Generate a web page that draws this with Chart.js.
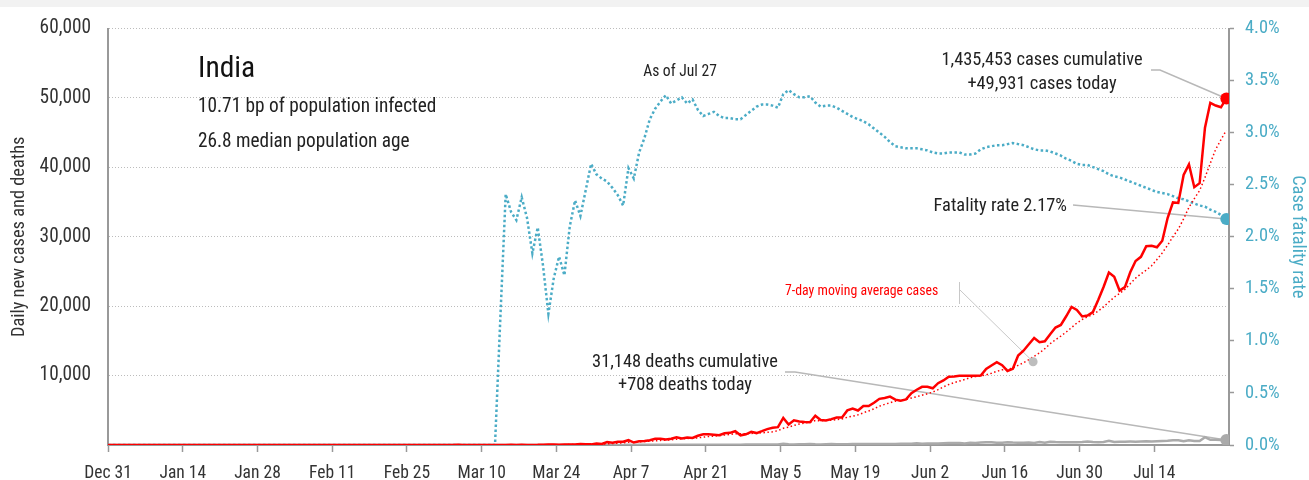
<!DOCTYPE html>
<html>
<head>
<meta charset="utf-8">
<script src="https://cdn.jsdelivr.net/npm/chart.js@4.4.1/dist/chart.umd.min.js"></script>
<style>
  html, body { margin: 0; padding: 0; background: #fff; }
  #wrap { position: relative; width: 1309px; height: 480px; }
  #band { position: absolute; left: 0; top: 0; width: 1309px; height: 7px; background: #f2f2f2; }
  #chart { position: absolute; left: 0; top: 0; }
</style>
</head>
<body>
<div id="wrap"><div id="band"></div><canvas id="chart" width="1309" height="480"></canvas></div>
<script>
// India: daily new cases / deaths (left axis) and case fatality rate (right axis)

// x axis is "days after Dec 31"; ticks every two weeks
const tickDays = [0, 14, 28, 42, 56, 70, 84, 98, 112, 126, 140, 154, 168, 182, 196];
const tickLabels = ['Dec 31', 'Jan 14', 'Jan 28', 'Feb 11', 'Feb 25', 'Mar 10', 'Mar 24', 'Apr 7',
  'Apr 21', 'May 5', 'May 19', 'Jun 2', 'Jun 16', 'Jun 30', 'Jul 14'];
const lastDay = 210;

// series start on Mar 1 (day 61); everything before that is zero
const firstDay = 61;
const quietValue = 0;

const cases = [
  // Mar
  0, 0, 2, 1, 22, 2, 1, 3, 5, 4, 13, 6, 11, 9, 20, 11, 23, 14, 14, 22, 50, 64, 77, 37, 86, 88, 75, 149, 106, 92, 227,
  // Apr
  146, 437, 336, 478, 472, 693, 354, 540, 591, 678, 896, 909, 796, 905, 1118, 941, 1076, 1007, 1334, 1553,
  1540, 1486, 1409, 1684, 1752, 1990, 1396, 1543, 1897, 1718,
  // May
  1993, 2293, 2487, 2573, 3900, 2958, 3561, 3390, 3320, 3277, 4213, 3604, 3525, 3722, 3967, 3970, 4987, 5242, 4970, 5611,
  5609, 6088, 6654, 6767, 6977, 6535, 6387, 6566, 7466, 7964, 8380,
  // Jun
  8392, 8171, 8909, 9304, 9851, 9887, 9971, 9983, 9987, 9985, 9996, 10956, 11458, 11929, 11502, 10667, 10974, 12881, 13586, 14516,
  15413, 14821, 14933, 15968, 16922, 17296, 18552, 19906, 19459, 18522,
  // Jul
  18653, 19148, 20903, 22771, 24850, 24248, 22252, 22752, 24879, 26506, 27114, 28637, 28701, 28498, 29429, 32695, 34956, 34884, 38902, 40425,
  37148, 37724, 45720, 49310, 48916, 48661, 49931
];

const casesAvg7 = [
  0, 0, 0, 0, 4, 4, 4, 4, 5, 5, 7, 5, 6, 7, 10, 11, 13, 13, 15, 16, 22, 28, 38, 40, 50, 61, 68, 82, 88, 90, 118,
  126, 176, 213, 260, 313, 398, 417, 473, 495, 544, 603, 666, 681, 759, 842, 892, 949, 965, 1025, 1133,
  1224, 1277, 1344, 1430, 1537, 1631, 1608, 1609, 1667, 1711,
  1756, 1833, 1904, 2072, 2409, 2560, 2824, 3023, 3170, 3283, 3517, 3475, 3556, 3579, 3661, 3754, 3998, 4145, 4340, 4638,
  4908, 5211, 5594, 5849, 6097, 6320, 6431, 6568, 6765, 6952, 7182,
  7384, 7618, 7978, 8369, 8710, 8985, 9212, 9439, 9699, 9853, 9951, 10109, 10334, 10613, 10830, 10928, 11069, 11481, 11857, 12294,
  12791, 13265, 13875, 14588, 15166, 15696, 16272, 16914, 17577, 18089,
  18473, 18791, 19306, 19909, 20615, 21299, 21832, 22418, 23236, 24037, 24657, 25198, 25834, 26727, 27681, 28797, 30004, 31114, 32581, 34256,
  35491, 36676, 38537, 40588, 42592, 43986, 45344
];

const deaths = [
  0, 0, 0, 0, 0, 0, 0, 0, 0, 0, 0, 0, 1, 1, 0, 0, 1, 0, 0, 1, 0, 3, 1, 2, 1, 3, 4, 2, 6, 5, 3,
  3, 12, 6, 12, 11, 26, 5, 35, 20, 33, 35, 34, 35, 51, 29, 38, 26, 43, 31, 36, 46, 50, 41, 37, 37, 49, 48, 60, 71, 73,
  75, 77, 83, 68, 195, 126, 89, 103, 95, 128, 97, 87, 122, 134, 100, 103, 120, 157, 134, 140,
  132, 148, 137, 147, 154, 146, 170, 194, 175, 265, 193,
  230, 204, 217, 260, 273, 294, 287, 206, 331, 279, 357, 396, 386, 311, 325, 380, 343, 334, 336, 375,
  306, 445, 312, 465, 418, 407, 384, 410, 380, 418,
  507, 434, 379, 442, 613, 425, 467, 482, 487, 475, 519, 551, 500, 553, 582, 606, 687, 671, 543, 681,
  587, 587, 1129, 740, 757, 705, 708
];

// case fatality rate, percent
const fatalityRate = [
  0, 0, 0, 0, 0, 0, 0, 0, 0, 0, 0, 0, 1.22, 2.41, 2.24, 2.16, 2.38, 2.18, 1.84, 2.09, 1.72, 1.26, 1.6, 1.81, 1.63,
  2.1, 2.35, 2.2, 2.45, 2.7, 2.6,
  2.56, 2.53, 2.47, 2.4, 2.3, 2.66, 2.56, 2.81, 2.95, 3.13, 3.23, 3.3, 3.36, 3.28, 3.31, 3.34, 3.28, 3.32, 3.22, 3.16,
  3.18, 3.2, 3.16, 3.14, 3.14, 3.13, 3.13, 3.17, 3.21, 3.25,
  3.27, 3.27, 3.26, 3.24, 3.37, 3.41, 3.37, 3.34, 3.34, 3.35, 3.29, 3.25, 3.26, 3.26, 3.24, 3.21, 3.18, 3.15, 3.13, 3.11,
  3.08, 3.04, 3.0, 2.96, 2.91, 2.87, 2.86, 2.85, 2.85, 2.85, 2.84,
  2.83, 2.81, 2.8, 2.8, 2.81, 2.81, 2.81, 2.79, 2.79, 2.8, 2.84, 2.86, 2.87, 2.88, 2.88, 2.89, 2.9, 2.89, 2.88, 2.86,
  2.84, 2.83, 2.83, 2.82, 2.8, 2.78, 2.75, 2.73, 2.7, 2.69,
  2.69, 2.67, 2.65, 2.63, 2.6, 2.58, 2.57, 2.55, 2.53, 2.51, 2.49, 2.47, 2.45, 2.43, 2.42, 2.41, 2.39, 2.37, 2.36, 2.34,
  2.32, 2.3, 2.29, 2.26, 2.24, 2.21, 2.17
];

// first installed narrow face wins; a probe string changes width only if the face exists
function pickFont(list) {
  const c = document.createElement('canvas').getContext('2d');
  const probe = 'abcdefghijklmnopqrstuvwxyz 0123456789';
  c.font = '40px monospace';
  const base = c.measureText(probe).width;
  for (const f of list) {
    c.font = "40px '" + f + "', monospace";
    if (Math.abs(c.measureText(probe).width - base) > 0.5) return f;
  }
  return 'sans-serif';
}
const FACE = pickFont(['Liberation Sans Narrow', 'Arial Narrow', 'Roboto Condensed', 'DejaVu Sans Condensed']);
const FONT = "'" + FACE + "', sans-serif";

// scale type so the subtitle line is 239px wide whatever face was found
const typeScale = (() => {
  const c = document.createElement('canvas').getContext('2d');
  c.font = '21px ' + FONT;
  return Math.min(1.15, 239 / c.measureText('10.71 bp of population infected').width);
})();
const fs = n => Math.round(n * typeScale * 10) / 10;

const RED = '#ff0000';
const TEAL = '#4bacc6';
const GREY = '#aaaaaa';
const AXIS = '#999999';
const INK = '#222222';

// points sit at midday of each date
const toPoints = vals =>
  [{ x: 0, y: quietValue }].concat(vals.map((v, i) => ({ x: firstDay + i + 0.5, y: v })));

const lastOnly = r => ctx => (ctx.dataIndex === ctx.dataset.data.length - 1 ? r : 0);

function lastPoint(chart, i) {
  const m = chart.getDatasetMeta(i);
  return m.data[m.data.length - 1];
}

function path(ctx, pts) {
  ctx.beginPath();
  ctx.moveTo(pts[0][0], pts[0][1]);
  for (let i = 1; i < pts.length; i++) ctx.lineTo(pts[i][0], pts[i][1]);
  ctx.stroke();
}

function text(ctx, str, x, y, size, align, color) {
  ctx.font = fs(size) + 'px ' + FONT;
  ctx.fillStyle = color || INK;
  ctx.textAlign = align || 'left';
  ctx.textBaseline = 'alphabetic';
  ctx.fillText(str, x, y);
}

// where the moving-average label points to
const avgPointerDay = 173.3;
const avgPointerValue = 12000;

const annotations = {
  id: 'annotations',
  beforeDatasetsDraw(chart) {
    const ctx = chart.ctx;
    const c = lastPoint(chart, 0), d = lastPoint(chart, 2), f = lastPoint(chart, 3);
    ctx.save();
    ctx.strokeStyle = '#b8b8b8';
    ctx.lineWidth = 1.5;
    path(ctx, [[1151, 70], [1160, 70], [c.x, c.y]]);
    path(ctx, [[1073, 205], [f.x, f.y]]);
    path(ctx, [[785, 372], [795, 372], [d.x, d.y]]);

    ctx.strokeStyle = '#c8c8c8';
    ctx.lineWidth = 1;
    path(ctx, [[959.5, 282], [959.5, 304]]);
    const px = chart.scales.x.getPixelForValue(avgPointerDay);
    const py = chart.scales.y.getPixelForValue(avgPointerValue);
    path(ctx, [[960, 290], [px, py]]);
    ctx.restore();
  },
  afterDatasetsDraw(chart) {
    const ctx = chart.ctx;
    ctx.save();
    const px = chart.scales.x.getPixelForValue(avgPointerDay);
    const py = chart.scales.y.getPixelForValue(avgPointerValue);
    ctx.fillStyle = '#bdbdbd';
    ctx.beginPath();
    ctx.arc(px, py, 4.5, 0, Math.PI * 2);
    ctx.fill();

    text(ctx, 'India', 198, 77, 32, 'left', '#111');
    text(ctx, '10.71 bp of population infected', 198, 112, 21);
    text(ctx, '26.8 median population age', 198, 147, 21);
    text(ctx, 'As of Jul 27', 680, 76, 17, 'center');
    text(ctx, '1,435,453 cases cumulative', 1042, 65, 20, 'center');
    text(ctx, '+49,931 cases today', 1042, 89, 20, 'center');
    text(ctx, 'Fatality rate 2.17%', 1067, 211, 20, 'right');
    text(ctx, '7-day moving average cases', 785, 295, 15, 'left', RED);
    text(ctx, '31,148 deaths cumulative', 685, 367, 20, 'center');
    text(ctx, '+708 deaths today', 685, 390, 20, 'center');
    ctx.restore();
  }
};

Chart.defaults.font.family = FONT;
Chart.defaults.color = '#333';

new Chart(document.getElementById('chart'), {
  type: 'line',
  data: {
    datasets: [
      {
        label: 'Daily new cases',
        data: toPoints(cases),
        yAxisID: 'y',
        borderColor: RED,
        backgroundColor: RED,
        borderWidth: 2.5,
        pointRadius: lastOnly(6),
        pointBorderWidth: 0,
        order: 0
      },
      {
        label: '7-day moving average cases',
        data: toPoints(casesAvg7),
        yAxisID: 'y',
        borderColor: RED,
        borderWidth: 1.5,
        borderDash: [1.5, 2.5],
        pointRadius: 0,
        order: 1
      },
      {
        label: 'Daily deaths',
        data: toPoints(deaths),
        yAxisID: 'y',
        borderColor: GREY,
        backgroundColor: GREY,
        borderWidth: 2.5,
        pointRadius: lastOnly(6),
        pointBorderWidth: 0,
        order: 3
      },
      {
        label: 'Case fatality rate',
        data: toPoints(fatalityRate),
        yAxisID: 'y2',
        borderColor: TEAL,
        backgroundColor: TEAL,
        borderWidth: 2.5,
        borderDash: [2.5, 2.5],
        pointRadius: lastOnly(6),
        pointBorderWidth: 0,
        order: 2
      }
    ]
  },
  options: {
    responsive: false,
    animation: false,
    layout: { padding: { top: 21, left: 0, right: 0, bottom: 0 } },
    plugins: { legend: { display: false }, tooltip: { enabled: false } },
    scales: {
      x: {
        type: 'linear',
        min: 0,
        max: lastDay,
        afterBuildTicks: axis => { axis.ticks = tickDays.map(v => ({ value: v })); },
        afterFit: axis => { axis.height = 35; },
        ticks: {
          autoSkip: false,
          maxRotation: 0,
          padding: 11,
          color: '#333',
          font: { size: fs(19) },
          callback: v => tickLabels[tickDays.indexOf(v)]
        },
        grid: { drawOnChartArea: false, drawTicks: true, tickLength: 7, tickColor: AXIS, tickWidth: 1.5 },
        border: { color: AXIS, width: 2 }
      },
      y: {
        position: 'left',
        min: 0,
        max: 60000,
        afterFit: axis => { axis.width = 108; },
        ticks: {
          stepSize: 10000,
          padding: 17,
          color: '#333',
          font: { size: fs(21) },
          callback: v => (v === 0 ? '' : v.toLocaleString('en-US'))
        },
        grid: {
          drawTicks: false,
          lineWidth: 1,
          color: ctx => (ctx.tick && ctx.tick.value === 0 ? 'rgba(0,0,0,0)' : '#bcbcbc')
        },
        border: { color: AXIS, width: 2, dash: [1, 2] },
        title: {
          display: true,
          text: 'Daily new cases and deaths',
          color: '#333',
          font: { size: fs(20) },
          padding: { top: 8, bottom: 0 }
        }
      },
      y2: {
        position: 'right',
        min: 0,
        max: 4,
        afterFit: axis => { axis.width = 80; },
        ticks: {
          stepSize: 0.5,
          padding: 11,
          color: TEAL,
          font: { size: fs(20) },
          callback: v => v.toFixed(1) + '%'
        },
        grid: { drawOnChartArea: false, drawTicks: true, tickLength: 5, tickColor: AXIS, tickWidth: 1.5 },
        border: { color: AXIS, width: 2 },
        title: {
          display: true,
          text: 'Case fatality rate',
          color: TEAL,
          font: { size: fs(20) },
          padding: { top: 0, bottom: 0 }
        }
      }
    }
  },
  plugins: [annotations]
});
</script>
</body>
</html>
